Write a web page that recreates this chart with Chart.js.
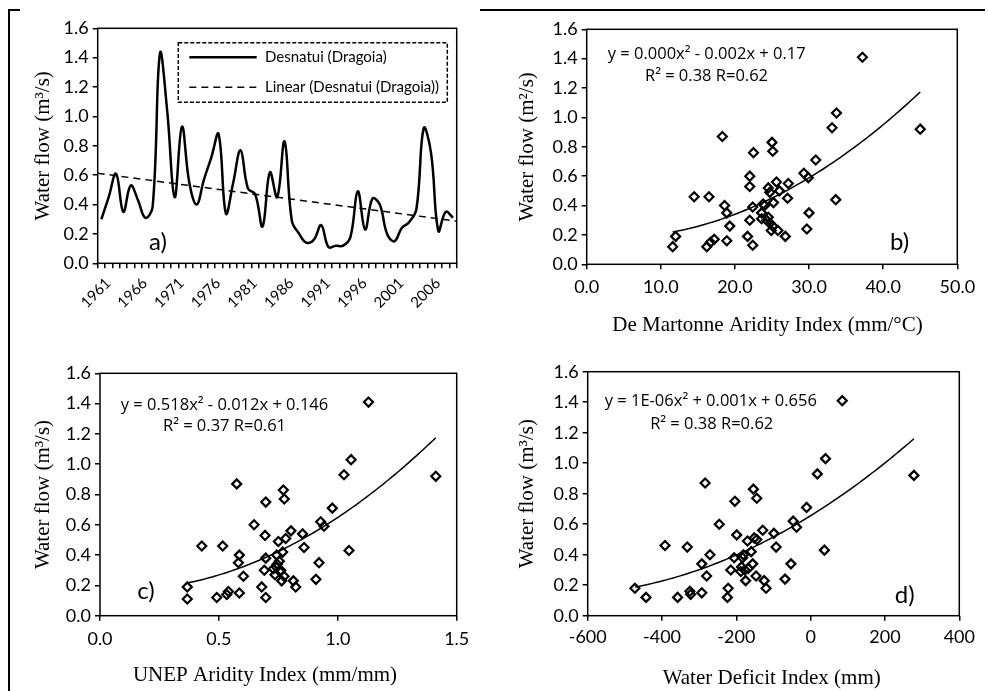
<!DOCTYPE html>
<html><head><meta charset="utf-8">
<script src="https://cdn.jsdelivr.net/npm/chart.js@4.4.1/dist/chart.umd.min.js"></script>
<style>
html,body{margin:0;padding:0;background:#fff;}
#wrap{position:relative;width:988px;height:691px;overflow:hidden;background:#fff;}
canvas{position:absolute;}
.ln{position:absolute;background:#000;}
</style></head><body>
<div id="wrap">
<div class="ln" style="left:8px;top:9px;width:12px;height:2px"></div>
<div class="ln" style="left:480px;top:9px;width:505px;height:2px"></div>
<div class="ln" style="left:8px;top:9px;width:2px;height:682px"></div>
<canvas id="ca" width="480" height="345" style="left:0;top:0"></canvas>
<canvas id="cb" width="508" height="345" style="left:480px;top:0"></canvas>
<canvas id="cc" width="480" height="346" style="left:0;top:345px"></canvas>
<canvas id="cd" width="508" height="346" style="left:480px;top:345px"></canvas>
</div>
<script>
// ---------- DATA ----------
const years = [1961,1962,1963,1964,1965,1966,1967,1968,1969,1970,1971,1972,1973,1974,1975,1976,1977,1978,1979,1980,
  1981,1982,1983,1984,1985,1986,1987,1988,1989,1990,1991,1992,1993,1994,1995,1996,1997,1998,1999,2000,
  2001,2002,2003,2004,2005,2006,2007,2008,2009];
const flowA = [0.30,0.45,0.61,0.35,0.53,0.43,0.31,0.385,1.43,1.03,0.45,0.93,0.55,0.40,0.57,0.72,0.88,0.34,0.55,0.77,
  0.51,0.47,0.25,0.62,0.45,0.83,0.29,0.20,0.14,0.16,0.26,0.11,0.12,0.12,0.18,0.49,0.23,0.44,0.40,0.20,
  0.15,0.24,0.28,0.37,0.92,0.75,0.22,0.35,0.31];
const yearLabels = [1961,1966,1971,1976,1981,1986,1991,1996,2001,2006];
const yTicks = [0,0.2,0.4,0.6,0.8,1.0,1.2,1.4,1.6];

const deMartonneX = [37.2,33.7,33.1,45.0,18.3,25.0,22.5,25.1,30.9,22.0,29.3,29.9,22.0,25.6,27.2,24.5,26.0,24.7,14.5,16.5,
  25.2,27.1,33.6,18.6,23.8,22.4,18.9,23.6,30.0,22.0,23.6,24.3,24.7,25.1,25.8,19.3,29.7,24.9,12.0,21.7,
  26.8,17.2,16.7,18.9,16.2,11.6,22.4,24.0,24.5];
const flowB = [1.41,1.03,0.93,0.92,0.87,0.83,0.76,0.77,0.71,0.60,0.62,0.59,0.53,0.56,0.55,0.52,0.50,0.49,0.46,0.46,
  0.42,0.45,0.44,0.40,0.41,0.39,0.35,0.35,0.35,0.30,0.31,0.30,0.28,0.26,0.23,0.26,0.24,0.23,0.19,0.19,
  0.19,0.17,0.15,0.16,0.12,0.12,0.13,0.40,0.32];
const xTicksB = [0,10,20,30,40,50];

const unepX = [1.129,1.056,1.026,1.412,0.575,0.771,0.697,0.775,0.977,0.648,0.928,0.942,0.694,0.803,0.852,0.750,0.781,0.768,0.428,0.516,
  0.858,1.047,0.586,0.697,0.743,0.582,0.921,0.754,0.603,0.691,0.729,0.743,0.757,0.774,0.764,0.908,0.813,0.367,0.680,0.823,
  0.540,0.533,0.586,0.491,0.367,0.697,0.736,0.745,0.760];
const flowC = [1.41,1.03,0.93,0.92,0.87,0.83,0.75,0.77,0.71,0.60,0.62,0.59,0.53,0.56,0.54,0.49,0.51,0.42,0.46,0.46,
  0.45,0.43,0.40,0.38,0.40,0.35,0.35,0.36,0.26,0.30,0.31,0.32,0.29,0.26,0.23,0.24,0.23,0.19,0.19,0.19,
  0.16,0.14,0.15,0.12,0.11,0.12,0.27,0.34,0.30];
const xTicksC = [0,0.5,1.0,1.5];

const wdiX = [85,40,18,278,-284,-154,-204,-145,-11,-246,-47,-38,-199,-129,-99,-152,-145,-170,-392,-332,
  -93,37,-271,-206,-181,-293,-53,-156,-280,-215,-186,-177,-168,-147,-175,-69,-125,-473,-222,-120,
  -325,-323,-293,-358,-443,-224,-188,-160,-183];
const flowD = [1.41,1.03,0.93,0.92,0.87,0.83,0.75,0.77,0.71,0.60,0.62,0.58,0.53,0.56,0.54,0.51,0.50,0.49,0.46,0.45,
  0.45,0.43,0.40,0.38,0.40,0.34,0.34,0.34,0.26,0.30,0.32,0.30,0.31,0.26,0.23,0.24,0.23,0.18,0.18,0.18,
  0.16,0.14,0.15,0.12,0.12,0.12,0.29,0.42,0.38];
const xTicksD = [-600,-400,-200,0,200,400];

// ---------- HELPERS ----------
const FS = "Lato, 'Open Sans', sans-serif";
const EQ = "'Open Sans', Lato, sans-serif";
const SERIF = "'Liberation Serif', 'Times New Roman', serif";
const TICKSIZE = 18;

function linfit(xs, ys) {
  const n = xs.length; let sx=0, sy=0, sxx=0, sxy=0;
  for (let i=0;i<n;i++){ sx+=xs[i]; sy+=ys[i]; sxx+=xs[i]*xs[i]; sxy+=xs[i]*ys[i]; }
  const b = (n*sxy - sx*sy)/(n*sxx - sx*sx);
  const a = (sy - b*sx)/n;
  return x => a + b*x;
}
function polyfit2(xs, ys) {
  const S=[0,0,0,0,0], T=[0,0,0];
  xs.forEach((x,i)=>{ let p=1; for (let k=0;k<5;k++){ S[k]+=p; if(k<3) T[k]+=p*ys[i]; p*=x; } });
  const M=[[S[0],S[1],S[2]],[S[1],S[2],S[3]],[S[2],S[3],S[4]]];
  const det = m => m[0][0]*(m[1][1]*m[2][2]-m[1][2]*m[2][1]) - m[0][1]*(m[1][0]*m[2][2]-m[1][2]*m[2][0]) + m[0][2]*(m[1][0]*m[2][1]-m[1][1]*m[2][0]);
  const D = det(M); const r=[];
  for (let c=0;c<3;c++){ const m=M.map((row,i)=>row.map((v,j)=> j===c ? T[i] : v)); r.push(det(m)/D); }
  return x => r[0] + r[1]*x + r[2]*x*x;
}

function decoPlugin(texts, extra) {
  return {
    id: 'deco',
    afterDraw(chart) {
      const ctx = chart.ctx, a = chart.chartArea;
      ctx.save();
      ctx.strokeStyle = '#000'; ctx.lineWidth = 1.5; ctx.setLineDash([]);
      ctx.strokeRect(a.left, a.top, a.right - a.left, a.bottom - a.top);
      ctx.fillStyle = '#000';
      texts.forEach(t => {
        ctx.save();
        ctx.font = t.font;
        ctx.textAlign = t.align || 'center';
        ctx.textBaseline = 'middle';
        ctx.translate(t.x, t.y);
        if (t.rot) ctx.rotate(t.rot);
        ctx.fillText(t.text, 0, 0);
        ctx.restore();
      });
      if (extra) extra(ctx, chart);
      ctx.restore();
    }
  };
}

function yAxis(g) {
  return {
    type: 'linear', min: 0, max: 1.6,
    afterBuildTicks: s => { s.ticks = yTicks.map(v => ({value: v})); },
    afterFit: s => { s.width = g.L; s.paddingTop = 0; s.paddingBottom = 0; },
    ticks: { callback: v => Number(v).toFixed(1), color: '#000', font: {family: FS, size: TICKSIZE}, padding: 4 },
    grid: { display: true, drawOnChartArea: false, drawTicks: true, tickLength: 5, color: '#000', lineWidth: 1.5 },
    border: { display: false }
  };
}

function baseOptions(g, xScale) {
  return {
    responsive: false, animation: false,
    layout: { padding: { left: 0, top: g.T, right: g.W - g.R, bottom: 0 } },
    plugins: { legend: { display: false }, tooltip: { enabled: false } },
    scales: { x: xScale, y: yAxis(g) }
  };
}

// ---------- PANEL A ----------
(function(){
  const g = {W:480, H:345, L:97.7, T:28.3, R:456.7, B:263.3};
  const xmin = years[0] - 0.5, xmax = years[years.length-1] + 0.5;
  const trend = linfit(years, flowA);
  const xScale = {
    type: 'linear', min: xmin, max: xmax,
    afterBuildTicks: s => {
      const t = [];
      years.forEach(y => { t.push({value: y - 0.5}); });
      t.push({value: xmax});
      s.ticks = t;
    },
    afterFit: s => { s.height = g.H - g.B; s.paddingLeft = 0; s.paddingRight = 0; },
    ticks: { autoSkip: false, maxRotation: 0, callback: () => '' },
    grid: { display: true, drawOnChartArea: false, drawTicks: true, tickLength: 5, lineWidth: 1.5, color: '#000' },
    border: { display: false }
  };
  const extraDraw = (ctx, chart) => {
    const xs = chart.scales.x;
    ctx.save();
    ctx.fillStyle = '#000'; ctx.font = '15px ' + FS;
    ctx.textAlign = 'right'; ctx.textBaseline = 'top';
    yearLabels.forEach(y => {
      ctx.save();
      ctx.translate(xs.getPixelForValue(y) + 1.5, chart.chartArea.bottom + 12);
      ctx.rotate(-Math.PI / 4);
      ctx.fillText(String(y), 0, 0);
      ctx.restore();
    });
    ctx.restore();
    ctx.save();
    ctx.lineWidth = 1.5; ctx.strokeStyle = '#000';
    ctx.setLineDash([4, 2]);
    ctx.strokeRect(178.3, 42.7, 269, 59.6);
    ctx.setLineDash([]);
    ctx.lineWidth = 2.5;
    ctx.beginPath(); ctx.moveTo(189.3, 57.3); ctx.lineTo(256.7, 57.3); ctx.stroke();
    ctx.lineWidth = 1.5; ctx.setLineDash([7, 5]);
    ctx.beginPath(); ctx.moveTo(189.3, 87.3); ctx.lineTo(256.7, 87.3); ctx.stroke();
    ctx.setLineDash([]);
    ctx.fillStyle = '#000'; ctx.font = '15px ' + FS; ctx.textAlign = 'left'; ctx.textBaseline = 'middle';
    ctx.fillText('Desnatui (Dragoia)', 265, 57.5);
    ctx.fillText('Linear (Desnatui (Dragoia))', 265, 87.5);
    ctx.restore();
  };
  const texts = [
    {text: 'Water flow (m³/s)', x: 43, y: 145.8, rot: -Math.PI/2, font: '21px ' + SERIF},
    {text: 'a)', x: 158, y: 242, font: '24px ' + FS}
  ];
  new Chart(document.getElementById('ca'), {
    type: 'line',
    data: { datasets: [
      { label: 'Desnatui (Dragoia)', data: years.map((y,i) => ({x: y, y: flowA[i]})),
        borderColor: '#000', borderWidth: 2.5, pointRadius: 0, tension: 0.4, fill: false },
      { label: 'Linear (Desnatui (Dragoia))', data: [{x: xmin, y: trend(xmin)}, {x: xmax, y: trend(xmax)}],
        borderColor: '#000', borderWidth: 1.5, borderDash: [7,5], pointRadius: 0, tension: 0, fill: false }
    ]},
    options: baseOptions(g, xScale),
    plugins: [decoPlugin(texts, extraDraw)]
  });
})();

// ---------- SCATTER PANELS ----------
function scatterPanel(id, g, xs, ys, xmin, xmax, xTicks, fmt, texts, xPad) {
  const fit = polyfit2(xs, ys);
  const lo = Math.min(...xs), hi = Math.max(...xs);
  const curve = [];
  for (let i = 0; i <= 80; i++) { const x = lo + (hi - lo) * i / 80; curve.push({x, y: fit(x)}); }
  const xScale = {
    type: 'linear', min: xmin, max: xmax,
    afterBuildTicks: s => { s.ticks = xTicks.map(v => ({value: v})); },
    afterFit: s => { s.height = g.H - g.B; s.paddingLeft = 0; s.paddingRight = 0; },
    ticks: { callback: fmt, color: '#000', font: {family: FS, size: TICKSIZE}, padding: xPad, maxRotation: 0 },
    grid: { display: true, drawOnChartArea: false, drawTicks: true, tickLength: 5, color: '#000', lineWidth: 1.5 },
    border: { display: false }
  };
  new Chart(document.getElementById(id), {
    type: 'scatter',
    data: { datasets: [
      { type: 'line', data: curve, borderColor: '#000', borderWidth: 1.5, pointRadius: 0, tension: 0, fill: false },
      { type: 'scatter', data: xs.map((x,i) => ({x, y: ys[i]})), pointStyle: 'rectRot', radius: 4.5,
        borderColor: '#000', borderWidth: 2.2, backgroundColor: 'rgba(255,255,255,0)' }
    ]},
    options: baseOptions(g, xScale),
    plugins: [decoPlugin(texts)]
  });
}

scatterPanel('cb', {W:508, H:345, L:106.7, T:29.3, R:477.3, B:264.3}, deMartonneX, flowB, 0, 50, xTicksB,
  v => Number(v).toFixed(1), [
    {text: 'Water flow (m²/s)', x: 47, y: 146.8, rot: -Math.PI/2, font: '21px ' + SERIF},
    {text: 'De Martonne Aridity Index (mm/°C)', x: 287.5, y: 325, font: '21px ' + SERIF},
    {text: 'y = 0.000x² - 0.002x + 0.17', x: 226.7, y: 54, font: '16.5px ' + EQ},
    {text: 'R² = 0.38 R=0.62', x: 226.5, y: 76.7, font: '16.5px ' + EQ},
    {text: 'b)', x: 419.7, y: 242.5, font: '24px ' + FS}
  ], 7);

scatterPanel('cc', {W:480, H:346, L:100, T:28.3, R:456.7, B:270.7}, unepX, flowC, 0, 1.5, xTicksC,
  v => Number(v).toFixed(1), [
    {text: 'Water flow (m³/s)', x: 43, y: 149.5, rot: -Math.PI/2, font: '21px ' + SERIF},
    {text: 'UNEP Aridity Index (mm/mm)', x: 265, y: 330, font: '21px ' + SERIF},
    {text: 'y = 0.518x² - 0.012x + 0.146', x: 224.5, y: 60, font: '16.5px ' + EQ},
    {text: 'R² = 0.37 R=0.61', x: 224.5, y: 81.7, font: '16.5px ' + EQ},
    {text: 'c)', x: 146, y: 245.8, font: '24px ' + FS}
  ], 8);

scatterPanel('cd', {W:508, H:346, L:107.7, T:26.7, R:479.3, B:270.7}, wdiX, flowD, -600, 400, xTicksD,
  v => String(v), [
    {text: 'Water flow (m³/s)', x: 47, y: 148.7, rot: -Math.PI/2, font: '21px ' + SERIF},
    {text: 'Water Deficit Index (mm)', x: 291.7, y: 333, font: '21px ' + SERIF},
    {text: 'y = 1E-06x² + 0.001x + 0.656', x: 230.8, y: 56.7, font: '16.5px ' + EQ},
    {text: 'R² = 0.38 R=0.62', x: 231.7, y: 79, font: '16.5px ' + EQ},
    {text: 'd)', x: 424.7, y: 250, font: '24px ' + FS}
  ], 6);
</script>
</body></html>
